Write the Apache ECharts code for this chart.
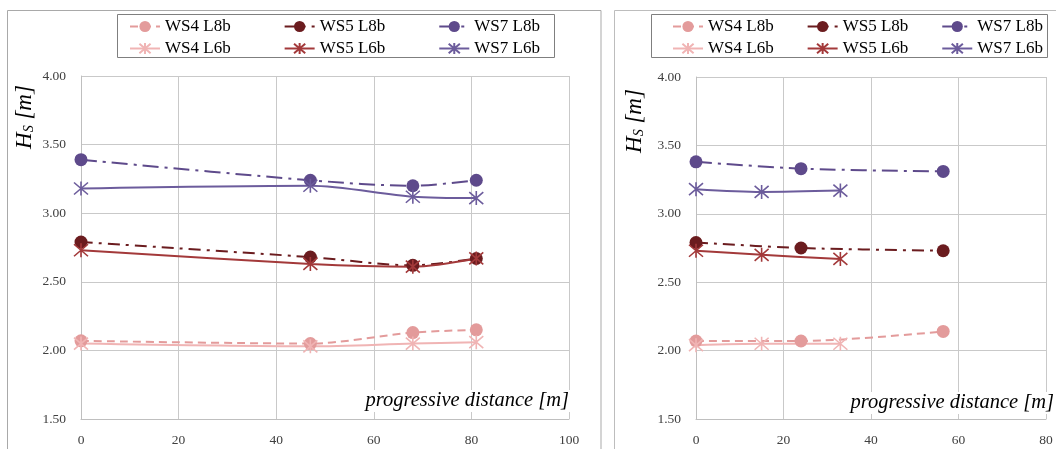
<!DOCTYPE html>
<html>
<head>
<meta charset="utf-8">
<script src="https://cdn.jsdelivr.net/npm/echarts@6/dist/echarts.min.js"></script>
<style>
html,body{margin:0;padding:0;background:#fff;}
#c{width:1056px;height:449px;}
</style>
</head>
<body>
<div id="c"></div>
<script>
// ---- data ----
const seriesNames = ['WS4 L8b', 'WS5 L8b', 'WS7 L8b', 'WS4 L6b', 'WS5 L6b', 'WS7 L6b'];
const yTicks = [1.5, 2.0, 2.5, 3.0, 3.5, 4.0];

// left chart
const leftX_L8b = [0, 47, 68, 81];
const leftX_L6b = [0, 47, 68, 81];
const left_WS4_L8b = [2.07, 2.05, 2.13, 2.15];
const left_WS5_L8b = [2.79, 2.68, 2.62, 2.67];
const left_WS7_L8b = [3.39, 3.24, 3.20, 3.24];
const left_WS4_L6b = [2.05, 2.03, 2.05, 2.06];
const left_WS5_L6b = [2.73, 2.63, 2.61, 2.67];
const left_WS7_L6b = [3.18, 3.20, 3.12, 3.11];

// right chart
const rightX_L8b = [0, 24, 56.5];
const rightX_L6b = [0, 15, 33];
const right_WS4_L8b = [2.07, 2.07, 2.14];
const right_WS5_L8b = [2.79, 2.75, 2.73];
const right_WS7_L8b = [3.38, 3.33, 3.31];
const right_WS4_L6b = [2.04, 2.05, 2.05];
const right_WS5_L6b = [2.73, 2.70, 2.67];
const right_WS7_L6b = [3.18, 3.16, 3.17];

// ---- styles ----
const FONT = 'Liberation Serif';
const STAR = 'path://M0,-7L0,7M-6,-6L6,6M-6,6L6,-6';
const styles = {
  'WS4 L8b': {color: '#E39B9B', dash: [8, 5], symbol: 'circle', size: 13},
  'WS5 L8b': {color: '#6B1C1F', dash: [12, 6, 3, 6], symbol: 'circle', size: 13},
  'WS7 L8b': {color: '#5E4A8B', dash: [16, 6, 3, 6], symbol: 'circle', size: 13},
  'WS4 L6b': {color: '#F0B4B4', dash: 'solid', symbol: STAR, size: 14},
  'WS5 L6b': {color: '#A3393A', dash: 'solid', symbol: STAR, size: 14},
  'WS7 L6b': {color: '#6C5C9C', dash: 'solid', symbol: STAR, size: 14}
};

function pairs(xs, ys) { return xs.map((x, i) => [x, ys[i]]); }

function mk(name, idx, xs, ys) {
  const s = styles[name];
  const isStar = s.symbol === STAR;
  return {
    name: name, type: 'line', xAxisIndex: idx, yAxisIndex: idx,
    data: pairs(xs, ys), smooth: 0.3,
    symbol: s.symbol, symbolSize: s.size, showSymbol: true,
    lineStyle: {color: s.color, width: 2, type: s.dash},
    itemStyle: {color: s.color, borderColor: s.color, borderWidth: isStar ? 1.6 : 0},
    emphasis: {disabled: true}, z: 3
  };
}

const series = [
  mk('WS4 L8b', 0, leftX_L8b, left_WS4_L8b),
  mk('WS5 L8b', 0, leftX_L8b, left_WS5_L8b),
  mk('WS7 L8b', 0, leftX_L8b, left_WS7_L8b),
  mk('WS4 L6b', 0, leftX_L6b, left_WS4_L6b),
  mk('WS5 L6b', 0, leftX_L6b, left_WS5_L6b),
  mk('WS7 L6b', 0, leftX_L6b, left_WS7_L6b),
  mk('WS4 L8b', 1, rightX_L8b, right_WS4_L8b),
  mk('WS5 L8b', 1, rightX_L8b, right_WS5_L8b),
  mk('WS7 L8b', 1, rightX_L8b, right_WS7_L8b),
  mk('WS4 L6b', 1, rightX_L6b, right_WS4_L6b),
  mk('WS5 L6b', 1, rightX_L6b, right_WS5_L6b),
  mk('WS7 L6b', 1, rightX_L6b, right_WS7_L6b)
];

function xAx(idx, max) {
  return {
    type: 'value', gridIndex: idx, min: 0, max: max, interval: 20,
    axisLine: {show: true, lineStyle: {color: '#bfbfbf', width: 1}},
    axisTick: {show: false},
    axisLabel: {color: '#404040', fontFamily: FONT, fontSize: 13.5, margin: 14},
    splitLine: {show: true, lineStyle: {color: '#c9c9c9', width: 1}}
  };
}
function yAx(idx) {
  return {
    type: 'value', gridIndex: idx, min: yTicks[0], max: yTicks[yTicks.length - 1], interval: 0.5,
    axisLine: {show: true, lineStyle: {color: '#bfbfbf', width: 1}},
    axisTick: {show: false},
    axisLabel: {color: '#404040', fontFamily: FONT, fontSize: 13.5, margin: 15,
      formatter: v => v.toFixed(2)},
    splitLine: {show: true, lineStyle: {color: '#c9c9c9', width: 1}}
  };
}

function legend(names, left, top, gap) {
  return {
    data: names, left: left, top: top, orient: 'horizontal',
    itemGap: gap, itemWidth: 30, itemHeight: 14, selectedMode: false,
    textStyle: {fontFamily: FONT, fontSize: 17, color: '#000'}
  };
}

const yName = (x, y) => ({
  type: 'text', x: x, y: y, rotation: Math.PI / 2, z: 50,
  style: {
    text: '{a|H}{b|S}{a| [m]}',
    textAlign: 'center', textVerticalAlign: 'middle',
    rich: {
      a: {fontFamily: FONT, fontStyle: 'italic', fontSize: 23, fill: '#000', lineHeight: 27},
      b: {fontFamily: FONT, fontStyle: 'italic', fontSize: 14, fill: '#000', padding: [9, 0, 0, 0]}
    }
  }
});
const xName = (xRight, yMid) => ({
  type: 'text', x: xRight, y: yMid, z: 50,
  style: {
    text: 'progressive distance [m]', fontFamily: FONT, fontStyle: 'italic', fontSize: 20.5,
    fill: '#000', textAlign: 'right', textVerticalAlign: 'middle',
    backgroundColor: '#fff', padding: [1, 1, 1, 2]
  }
});

const option = {
  animation: false,
  backgroundColor: '#fff',
  grid: [
    {left: 81, top: 76, width: 488, height: 343},
    {left: 696, top: 77, width: 350, height: 342}
  ],
  xAxis: [xAx(0, 100), xAx(1, 80)],
  yAxis: [yAx(0), yAx(1)],
  legend: [
    legend(seriesNames.slice(0, 3), 124, 13, 53),
    legend(seriesNames.slice(3, 6), 124, 35, 53),
    legend(seriesNames.slice(0, 3), 667, 13, 33),
    legend(seriesNames.slice(3, 6), 667, 35, 33)
  ],
  graphic: [
    {type: 'rect', z: -10, shape: {x: 7.5, y: 10.5, width: 593.5, height: 460},
      style: {fill: 'none', stroke: '#a9a9a9', lineWidth: 1}},
    {type: 'rect', z: -10, shape: {x: 614.5, y: 10.5, width: 460, height: 460},
      style: {fill: 'none', stroke: '#bdbdbd', lineWidth: 1}},
    {type: 'rect', z: -5, shape: {x: 117.5, y: 14.5, width: 437, height: 43},
      style: {fill: 'none', stroke: '#7f7f7f', lineWidth: 1}},
    {type: 'rect', z: -5, shape: {x: 651.5, y: 14.5, width: 396, height: 43},
      style: {fill: 'none', stroke: '#7f7f7f', lineWidth: 1}},
    yName(25, 117),
    yName(635, 121),
    xName(570, 401),
    xName(1055, 403)
  ],
  series: series
};

const chart = echarts.init(document.getElementById('c'), null, {renderer: 'canvas'});
chart.setOption(option);
</script>
</body>
</html>
